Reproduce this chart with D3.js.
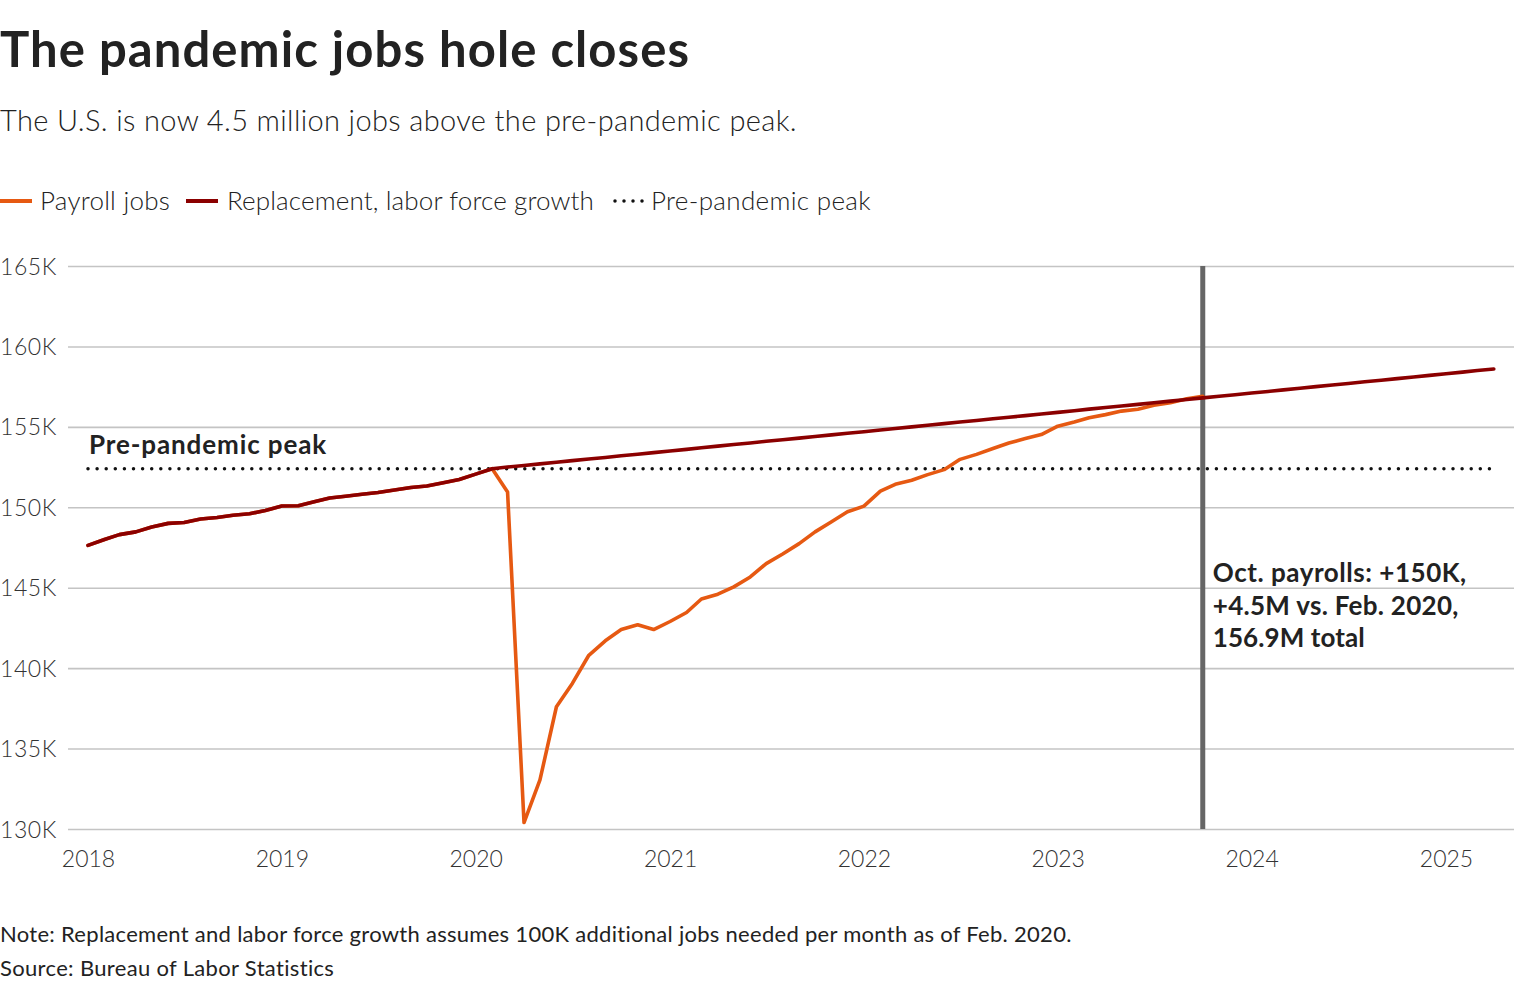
<!DOCTYPE html>
<html>
<head>
<meta charset="utf-8">
<script src="https://cdn.jsdelivr.net/npm/d3@7"></script>
<style>
  html, body { margin: 0; padding: 0; background: #fff; }
  svg { display: block; }
  text { font-family: "Source Sans Pro", "Lato", "Noto Sans", sans-serif; }
</style>
</head>
<body>
<svg id="chart" width="1518" height="988"></svg>
<script>
// ---- Data (millions of jobs) ----
const startMonth = "2018-01";
const payroll = [
  147.63, 148.00, 148.30, 148.47, 148.78, 149.00, 149.05, 149.27, 149.37, 149.50, 149.60, 149.80,
  150.08, 150.10, 150.33, 150.58, 150.69, 150.81, 150.92, 151.07, 151.23, 151.32, 151.52, 151.73,
  152.06, 152.40, 150.95, 130.40, 133.05, 137.60, 139.05, 140.80, 141.70, 142.40, 142.70, 142.40,
  142.90, 143.46, 144.30, 144.60, 145.05, 145.67, 146.50, 147.10, 147.74, 148.47, 149.10, 149.72,
  150.07, 151.00, 151.43, 151.68, 152.03, 152.34, 152.98, 153.29, 153.65, 154.00, 154.27, 154.52,
  155.04, 155.30, 155.57, 155.76, 155.98, 156.09, 156.34, 156.50, 156.75, 156.90
];
// Replacement path after Feb. 2020 (Mar. 2020 – Apr. 2025)
const replacementAfterPeak = [
  152.5,152.6,152.7,152.8,152.9,153.0,153.1,153.2,153.3,153.4,153.5,153.6,
  153.7,153.8,153.9,154.0,154.1,154.2,154.3,154.4,154.5,154.6,154.7,154.8,
  154.9,155.0,155.1,155.2,155.3,155.4,155.5,155.6,155.7,155.8,155.9,156.0,
  156.1,156.2,156.3,156.4,156.5,156.6,156.7,156.8,156.9,157.0,157.1,157.2,
  157.3,157.4,157.5,157.6,157.7,157.8,157.9,158.0,158.1,158.2,158.3,158.4,
  158.5,158.6
];
const peakIndex = 25; // Feb. 2020
const prePandemicPeak = 152.4;
const yTicks = [130, 135, 140, 145, 150, 155, 160, 165];
const yTickLabels = ["130K", "135K", "140K", "145K", "150K", "155K", "160K", "165K"];
const xTickYears = ["2018", "2019", "2020", "2021", "2022", "2023", "2024", "2025"];
const annotationMonth = "2023-10";
const annotationLines = ["Oct. payrolls: +150K,", "+4.5M vs. Feb. 2020,", "156.9M total"];
const legendItems = ["Payroll jobs", "Replacement, labor force growth", "Pre-pandemic peak"];
const title = "The pandemic jobs hole closes";
const subtitle = "The U.S. is now 4.5 million jobs above the pre-pandemic peak.";
const notes = ["Note: Replacement and labor force growth assumes 100K additional jobs needed per month as of Feb. 2020.",
               "Source: Bureau of Labor Statistics"];

// ---- Build series ----
const parseMonth = d3.utcParse("%Y-%m");
const t0 = parseMonth(startMonth);
const monthDate = i => d3.utcMonth.offset(t0, i);
const payrollData = payroll.map((v, i) => ({ date: monthDate(i), value: v }));
const replacementValues = payroll.slice(0, peakIndex + 1).concat(replacementAfterPeak);
const replacementData = replacementValues.map((v, i) => ({ date: monthDate(i), value: v }));

const ORANGE = "#e65912";
const DARKRED = "#8b0000";
const TEXT = "#222";

const svg = d3.select("#chart");

// stretch text slightly via letter-spacing to match the original face's width
function fit(sel, width) {
  const node = sel.node();
  const len = node.getComputedTextLength();
  const n = sel.text().length;
  if (n > 1 && len < width) sel.attr("letter-spacing", ((width - len) / n).toFixed(3));
  return sel;
}

// ---- Scales ----
const x = d3.scaleUtc()
  .domain([parseMonth(xTickYears[0] + "-01"), parseMonth(xTickYears[xTickYears.length - 1] + "-01")])
  .range([88, 1446]);
const y = d3.scaleLinear().domain([130, 165]).range([829, 266]);
const gridLeft = 68, gridRight = 1514;

// ---- Title / subtitle ----
fit(svg.append("text").attr("x", 0).attr("y", 67)
  .attr("font-size", 49).attr("font-weight", 700).attr("fill", TEXT)
  .text(title), 690);
fit(svg.append("text").attr("x", 0).attr("y", 131)
  .attr("font-size", 29).attr("font-weight", 300).attr("fill", TEXT)
  .text(subtitle), 797);

// ---- Legend ----
const legend = svg.append("g");
const legendY = 201;
const lx = [0, 186, 613];
const ltx = [40, 227, 651];
const lw = [130, 367, 220];
legend.append("line").attr("x1", lx[0]).attr("x2", lx[0] + 32).attr("y1", legendY).attr("y2", legendY)
  .attr("stroke", ORANGE).attr("stroke-width", 4);
legend.append("line").attr("x1", lx[1]).attr("x2", lx[1] + 32).attr("y1", legendY).attr("y2", legendY)
  .attr("stroke", DARKRED).attr("stroke-width", 4);
legend.append("line").attr("x1", lx[2] + 2).attr("x2", lx[2] + 30).attr("y1", legendY).attr("y2", legendY)
  .attr("stroke", "#111").attr("stroke-width", 3.5).attr("stroke-linecap", "round").attr("stroke-dasharray", "0,9");
legendItems.forEach((t, i) => {
  fit(legend.append("text").attr("x", ltx[i]).attr("y", legendY + 9)
    .attr("font-size", 26).attr("font-weight", 300).attr("fill", TEXT).text(t), lw[i]);
});

// ---- Grid + Y axis ----
const yAxis = d3.axisLeft(y).tickValues(yTicks).tickFormat((d, i) => yTickLabels[i]).tickSize(0);
const yg = svg.append("g").call(yAxis);
yg.select(".domain").remove();
yg.selectAll("text").attr("x", 0).attr("text-anchor", "start").attr("dy", "0.35em")
  .attr("font-size", 23).attr("font-weight", 300).attr("fill", "#333").style("font-family", null)
  .each(function () { fit(d3.select(this), 57); });
yg.selectAll(".tick").append("line")
  .attr("x1", gridLeft).attr("x2", gridRight)
  .attr("stroke", "#c4c4c4").attr("stroke-width", 1.6);

// ---- X axis ----
const xAxis = d3.axisBottom(x).ticks(d3.utcYear.every(1)).tickFormat((d, i) => xTickYears[i]).tickSize(0);
const xg = svg.append("g").attr("transform", `translate(0,${y(130)})`).call(xAxis);
xg.select(".domain").remove();
xg.selectAll("text").attr("dy", 0).attr("y", 38)
  .attr("font-size", 23).attr("font-weight", 300).attr("fill", "#333").style("font-family", null);

// ---- Pre-pandemic peak dotted line ----
svg.append("line")
  .attr("x1", x(payrollData[0].date)).attr("x2", x(replacementData[replacementData.length - 1].date))
  .attr("y1", y(prePandemicPeak)).attr("y2", y(prePandemicPeak))
  .attr("stroke", "#111").attr("stroke-width", 3.5).attr("stroke-linecap", "round")
  .attr("stroke-dasharray", "0,9.1");
fit(svg.append("text").attr("x", 89).attr("y", y(prePandemicPeak) - 15)
  .attr("font-size", 26).attr("font-weight", 700).attr("fill", TEXT).text("Pre-pandemic peak"), 238);

// ---- Vertical annotation line ----
const ax = x(parseMonth(annotationMonth));
svg.append("line").attr("x1", ax).attr("x2", ax).attr("y1", y(165)).attr("y2", y(130))
  .attr("stroke", "#666").attr("stroke-width", 5);

// ---- Lines ----
const line = d3.line().x(d => x(d.date)).y(d => y(d.value));
svg.append("path").datum(payrollData).attr("d", line)
  .attr("fill", "none").attr("stroke", ORANGE).attr("stroke-width", 3.6)
  .attr("stroke-linejoin", "round").attr("stroke-linecap", "round");
svg.append("path").datum(replacementData).attr("d", line)
  .attr("fill", "none").attr("stroke", DARKRED).attr("stroke-width", 3.6)
  .attr("stroke-linejoin", "round").attr("stroke-linecap", "round");

// ---- Annotation text ----
const annW = [254, 246, 152];
annotationLines.forEach((t, i) => {
  fit(svg.append("text").attr("x", ax + 10).attr("y", 582 + i * 32.5)
    .attr("font-size", 26).attr("font-weight", 700).attr("fill", TEXT).text(t), annW[i]);
});

// ---- Notes ----
const noteW = [1072, 335];
notes.forEach((t, i) => {
  fit(svg.append("text").attr("x", 0).attr("y", 942 + i * 34)
    .attr("font-size", 22).attr("font-weight", 400).attr("fill", TEXT).text(t), noteW[i]);
});
</script>
</body>
</html>
